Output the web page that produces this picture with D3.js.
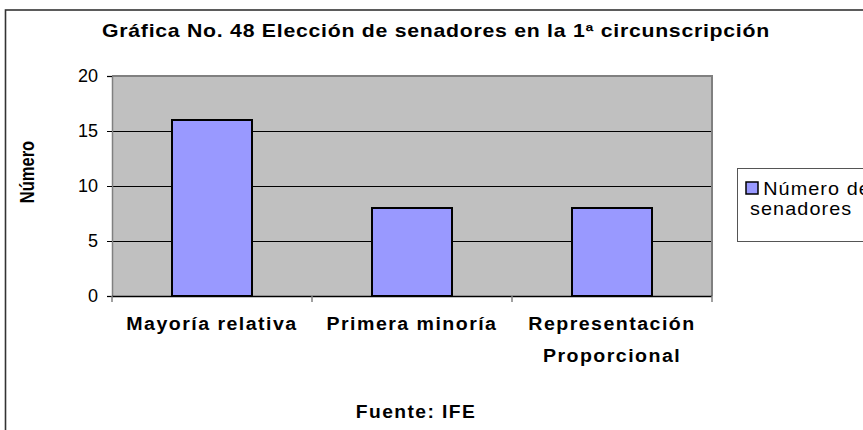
<!DOCTYPE html>
<html>
<head>
<meta charset="utf-8">
<script src="https://cdn.jsdelivr.net/npm/d3@7"></script>
<style>
  html, body { margin: 0; padding: 0; background: #fff; }
  svg { display: block; font-family: Arial, "Liberation Sans", sans-serif; }
</style>
</head>
<body>
<svg id="chart" width="863" height="430"></svg>
<script>
// Senators elected in the 1st circumscription, by type of election
const categories = [["Mayoría relativa"], ["Primera minoría"], ["Representación", "Proporcional"]];
const senadores = [16, 8, 8];
const yTicks = [0, 5, 10, 15, 20];
const chartTitle = "Gráfica No. 48  Elección de senadores en la 1ª circunscripción";
const yTitle = "Número";
const sourceNote = "Fuente: IFE";
const legendLines = ["Número de", "senadores"];

const svg = d3.select("#chart");

// widen a text element horizontally about its anchor point
function widen(sel, cx, factor) {
  sel.attr("transform", `translate(${cx},0) scale(${factor},1) translate(${-cx},0)`);
}

// outer chart frame (runs off the right and bottom edges)
svg.append("rect")
  .attr("x", 5.5).attr("y", 10)
  .attr("width", 900).attr("height", 460)
  .attr("fill", "#fff").attr("stroke", "#333").attr("stroke-width", 1.6);

const plot = { left: 112, top: 76, right: 712, bottom: 296 };

const x = d3.scaleBand()
  .domain(d3.range(categories.length))
  .range([plot.left, plot.right])
  .padding(0);

const y = d3.scaleLinear()
  .domain([0, 20])
  .range([plot.bottom, plot.top]);

// plot background
svg.append("rect")
  .attr("x", plot.left).attr("y", plot.top)
  .attr("width", plot.right - plot.left).attr("height", plot.bottom - plot.top)
  .attr("fill", "#c0c0c0");

// horizontal gridlines
svg.append("g")
  .selectAll("line")
  .data(yTicks.filter(t => t > 0 && t < 20))
  .join("line")
  .attr("x1", plot.left).attr("x2", plot.right)
  .attr("y1", d => Math.round(y(d)) + 0.5).attr("y2", d => Math.round(y(d)) + 0.5)
  .attr("stroke", "#000").attr("stroke-width", 1);

// plot border on top and right
svg.append("path")
  .attr("d", `M${plot.left},${plot.top} H${plot.right} V${plot.bottom}`)
  .attr("fill", "none").attr("stroke", "#808080").attr("stroke-width", 2);

// bars
const barW = x.bandwidth() * 0.4;
svg.append("g")
  .selectAll("rect")
  .data(senadores)
  .join("rect")
  .attr("x", (d, i) => x(i) + (x.bandwidth() - barW) / 2)
  .attr("y", d => y(d))
  .attr("width", barW)
  .attr("height", d => y(0) - y(d))
  .attr("fill", "#9999ff")
  .attr("stroke", "#000")
  .attr("stroke-width", 2);

// y axis
const yAxis = d3.axisLeft(y).tickValues(yTicks).tickSize(5).tickPadding(9);
const gy = svg.append("g")
  .attr("transform", `translate(${plot.left},0)`)
  .call(yAxis);
gy.select(".domain").attr("stroke", "#808080").attr("stroke-width", 1.5);
gy.selectAll(".tick line").attr("stroke", "#000");
gy.selectAll(".tick text")
  .attr("font-size", 18).attr("fill", "#000")
  .attr("font-family", "Arial, 'Liberation Sans', sans-serif");

// x axis with ticks at category boundaries
const boundaries = d3.range(categories.length + 1).map(i => plot.left + i * x.step());
svg.append("line")
  .attr("x1", plot.left).attr("x2", plot.right)
  .attr("y1", plot.bottom + 0.5).attr("y2", plot.bottom + 0.5)
  .attr("stroke", "#000").attr("stroke-width", 1.5);
svg.append("g")
  .selectAll("line")
  .data(boundaries)
  .join("line")
  .attr("x1", d => d).attr("x2", d => d)
  .attr("y1", plot.bottom).attr("y2", plot.bottom + 6)
  .attr("stroke", "#808080").attr("stroke-width", 1.5);

// category labels
svg.append("g")
  .selectAll("text")
  .data(categories)
  .join("text")
  .attr("x", (d, i) => x(i) + x.bandwidth() / 2)
  .attr("y", 330)
  .attr("text-anchor", "middle")
  .attr("font-size", 17.5).attr("font-weight", "bold")
  .attr("letter-spacing", 1.3)
  .each(function(lines, i) {
    const t = d3.select(this);
    t.selectAll("tspan")
      .data(lines)
      .join("tspan")
      .attr("x", t.attr("x"))
      .attr("dy", (d, j) => j === 0 ? 0 : 32)
      .text(d => d);
    widen(t, x(i) + x.bandwidth() / 2, 1.12);
  });

// title
const title = svg.append("text")
  .attr("x", 436).attr("y", 37)
  .attr("text-anchor", "middle")
  .attr("font-size", 17.5).attr("font-weight", "bold")
  .attr("letter-spacing", 0.6)
  .text(chartTitle);
widen(title, 436, 668 / title.node().getBBox().width);

// y axis title (rotated, glyphs widened like the rest of the chart)
svg.append("text")
  .attr("transform", "translate(34,172) scale(1.2,1) rotate(-90)")
  .attr("text-anchor", "middle")
  .attr("font-size", 16.5).attr("font-weight", "bold")
  .text(yTitle);

// source note, centred under the plot
const cxPlot = (plot.left + plot.right) / 2;
const source = svg.append("text")
  .attr("x", cxPlot + 4).attr("y", 418)
  .attr("text-anchor", "middle")
  .attr("font-size", 17.5).attr("font-weight", "bold")
  .attr("letter-spacing", 1.3)
  .text(sourceNote);
widen(source, cxPlot + 4, 1.1);

// legend
const legend = svg.append("g");
legend.append("rect")
  .attr("x", 737.5).attr("y", 168.5)
  .attr("width", 200).attr("height", 73)
  .attr("fill", "#fff").attr("stroke", "#555").attr("stroke-width", 1);
legend.append("rect")
  .attr("x", 746).attr("y", 182)
  .attr("width", 12).attr("height", 12)
  .attr("fill", "#9999ff").attr("stroke", "#000").attr("stroke-width", 1.5);
const legendText = legend.append("text")
  .attr("font-size", 18)
  .attr("letter-spacing", 1);
legendText.selectAll("tspan")
  .data(legendLines)
  .join("tspan")
  .attr("x", (d, i) => i === 0 ? 762 : 750)
  .attr("y", (d, i) => 195 + i * 20)
  .text(d => d);
widen(legendText, 750, 1.1);
</script>
</body>
</html>
